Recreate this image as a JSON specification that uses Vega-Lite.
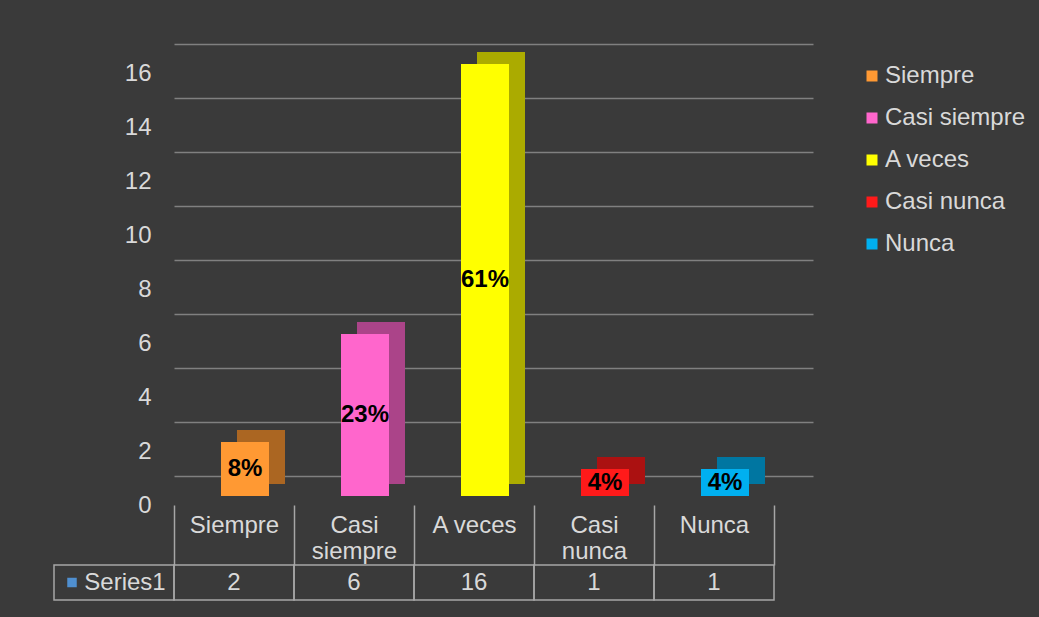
{
  "$schema": "https://vega.github.io/schema/vega-lite/v6.json",
  "background": "#3a3a3a",
  "padding": {"left": 53, "top": 44, "right": 5, "bottom": 17},
  "autosize": {"type": "pad"},
  "bounds": "flush",
  "spacing": 89,
  "config": {
    "font": "Liberation Sans",
    "view": {"stroke": null}
  },
  "data": {
    "values": [
      {"cat": "Siempre", "value": 2, "pct": "8%"},
      {"cat": "Casi siempre", "value": 6, "pct": "23%"},
      {"cat": "A veces", "value": 16, "pct": "61%"},
      {"cat": "Casi nunca", "value": 1, "pct": "4%"},
      {"cat": "Nunca", "value": 1, "pct": "4%"}
    ]
  },
  "vconcat": [
    {
      "width": 639,
      "height": 432,
      "encoding": {
        "x": {
          "field": "cat",
          "type": "nominal",
          "sort": ["Siempre", "Casi siempre", "A veces", "Casi nunca", "Nunca"],
          "scale": {"domain": ["Siempre", "Casi siempre", "A veces", "Casi nunca", "Nunca"], "paddingInner": 0, "paddingOuter": 0.1625, "align": 0},
          "axis": {
            "orient": "bottom",
            "offset": 29,
            "domain": false,
            "ticks": true,
            "tickBand": "extent",
            "tickSize": 60,
            "tickColor": "#a6a6a6",
            "tickWidth": 1.5,
            "labelPadding": -52,
            "labelColor": "#d9d9d9",
            "labelFontSize": 24,
            "labelLineHeight": 26,
            "labelAngle": 0,
            "labelBaseline": "top",
            "labelExpr": "datum.label === 'A veces' ? datum.label : split(datum.label, ' ')",
            "title": null,
            "grid": false
          }
        }
      },
      "layer": [
        {
          "mark": {"type": "bar", "width": {"band": 0.4}, "xOffset": 27, "x2Offset": 27, "yOffset": 8, "y2Offset": 8},
          "encoding": {
            "y": {"field": "value", "type": "quantitative", "scale": {"domain": [0, 16], "nice": false},
              "axis": {"values": [0, 2, 4, 6, 8, 10, 12, 14, 16], "grid": true, "gridColor": "#808080", "gridWidth": 1.5, "domain": false, "ticks": false, "labelOffset": 29, "labelPadding": 23, "labelColor": "#d9d9d9", "labelFontSize": 24, "title": null}},
            "color": {"field": "cat", "type": "nominal",
              "scale": {"domain": ["Siempre", "Casi siempre", "A veces", "Casi nunca", "Nunca"], "range": ["#FF9933", "#FF66CC", "#FFFF00", "#FF1A1A", "#00B0F0"]},
              "legend": {"orient": "right", "offset": 27, "padding": 20, "title": null, "symbolType": "square", "symbolSize": 121, "symbolStrokeWidth": 0, "symbolOpacity": 1, "labelColor": "#d9d9d9", "labelFontSize": 24, "labelOffset": 1, "rowPadding": 18, "labelLimit": 300}}
          }
        },
        {
          "mark": {"type": "bar", "width": {"band": 0.4}, "xOffset": 27, "x2Offset": 27, "yOffset": 8, "y2Offset": 8, "color": "black", "opacity": 0.33},
          "encoding": {
            "y": {"field": "value", "type": "quantitative"}
          }
        },
        {
          "mark": {"type": "bar", "width": {"band": 0.4}, "xOffset": 11, "x2Offset": 11, "yOffset": 20, "y2Offset": 20},
          "encoding": {
            "y": {"field": "value", "type": "quantitative"},
            "color": {"field": "cat", "type": "nominal"}
          }
        },
        {
          "transform": [{"calculate": "datum.value / 2", "as": "mid"}],
          "mark": {"type": "text", "xOffset": 11, "yOffset": 20, "fontSize": 24, "fontWeight": "bold", "color": "black"},
          "encoding": {
            "y": {"field": "mid", "type": "quantitative"},
            "text": {"field": "pct"}
          }
        }
      ]
    },
    {
      "width": 600,
      "height": 35,
      "encoding": {
        "x": {
          "field": "cat",
          "type": "nominal",
          "sort": ["Siempre", "Casi siempre", "A veces", "Casi nunca", "Nunca"],
          "scale": {"domain": ["Siempre", "Casi siempre", "A veces", "Casi nunca", "Nunca"], "paddingInner": 0, "paddingOuter": 0},
          "axis": null
        }
      },
      "layer": [
        {
          "mark": {"type": "rect", "fill": "transparent", "stroke": "#a6a6a6", "strokeWidth": 1.5}
        },
        {
          "mark": {"type": "text", "color": "#d9d9d9", "fontSize": 24},
          "encoding": {"text": {"field": "value"}}
        },
        {
          "data": {"values": [{"s": "Series1"}]},
          "layer": [
            {
              "mark": {"type": "rect", "fill": "transparent", "stroke": "#a6a6a6", "strokeWidth": 1.5, "xOffset": -120, "x2Offset": -120},
              "encoding": {"x": {"datum": "Siempre"}}
            },
            {
              "mark": {"type": "text", "color": "#d9d9d9", "fontSize": 24, "xOffset": -109},
              "encoding": {"x": {"datum": "Siempre"}, "text": {"field": "s"}}
            },
            {
              "mark": {"type": "point", "shape": "square", "filled": true, "size": 90, "color": "#4f8fd0", "opacity": 1, "xOffset": -162},
              "encoding": {"x": {"datum": "Siempre"}}
            }
          ]
        }
      ]
    }
  ]
}
